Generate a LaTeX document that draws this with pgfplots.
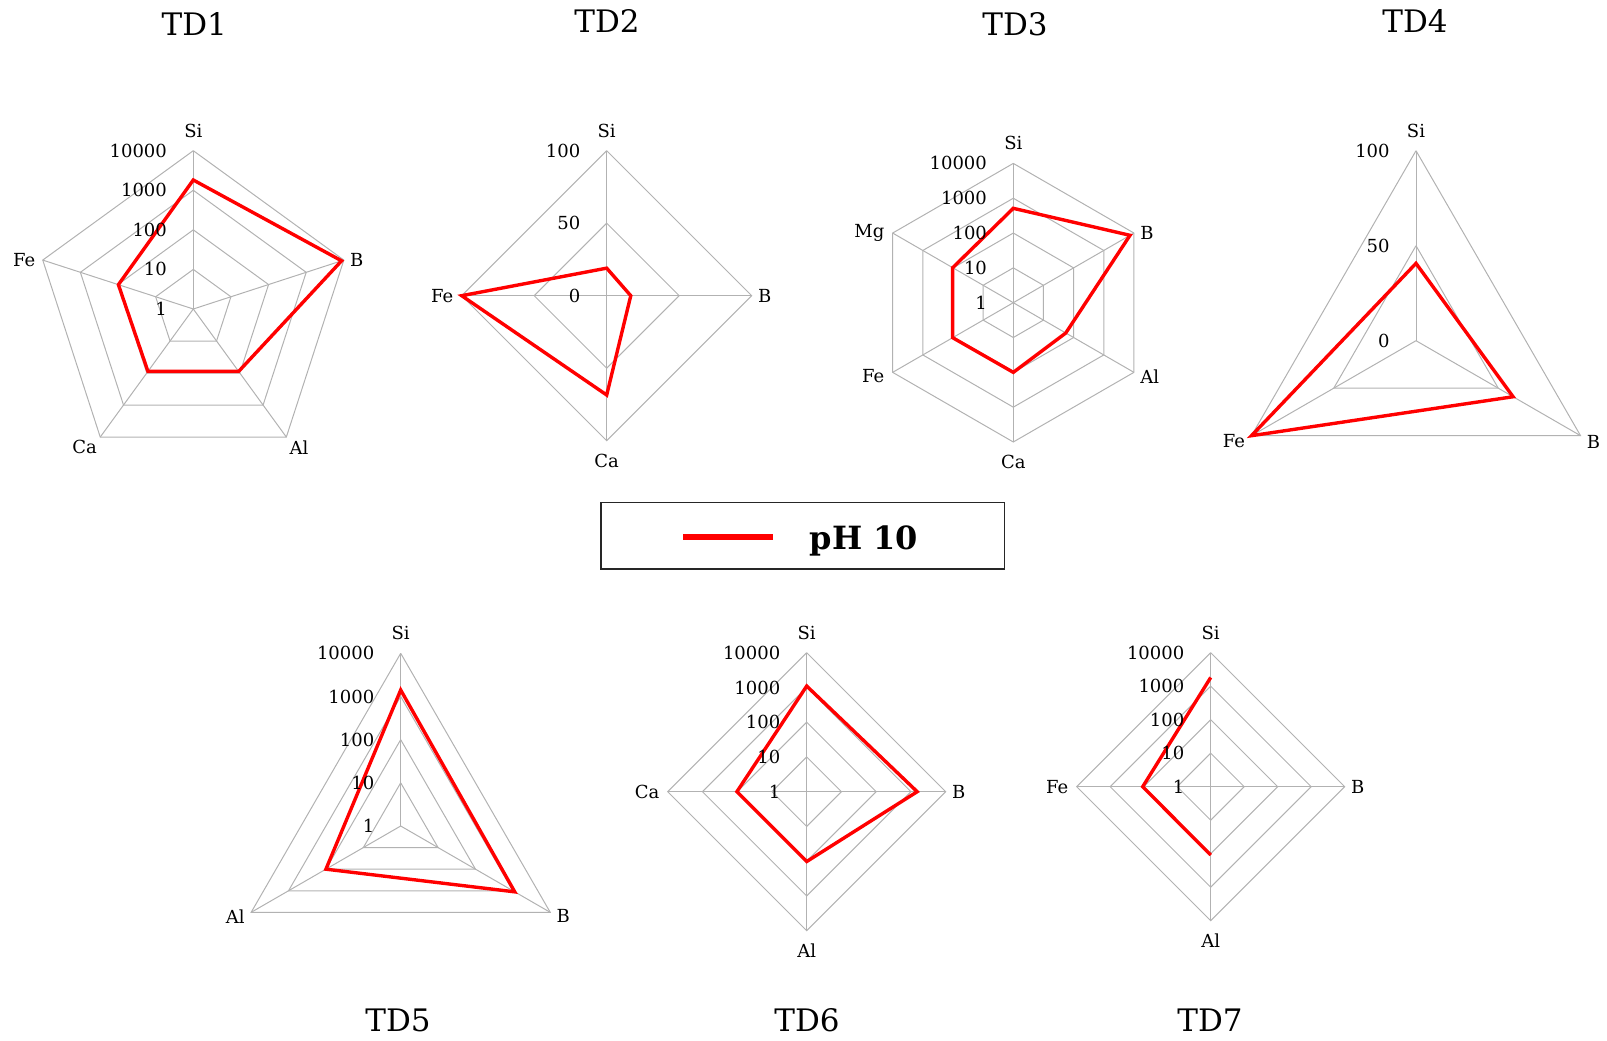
\documentclass[border=0pt]{standalone}
\usepackage{pgfplots}
\pgfplotsset{compat=1.18}
\usepgfplotslibrary{polar}
\usepackage{fontspec}
\setmainfont{DejaVu Serif}
\pgfplotsset{
  radar/.style={hide axis, clip=false, scale only axis, xmin=0, xmax=360, ymin=0, anchor=center},
  gridl/.style={color=gray!60, line width=0.5pt, forget plot},
  dline/.style={color=red, line width=1.7pt, line join=miter, mark=none},
}
\tikzset{tickl/.style={anchor=east, inner sep=0pt, xshift=-13pt}}
\begin{document}
\begin{tikzpicture}[x=0.5pt, y=0.5pt, font=\fontsize{9}{10.5}\selectfont]
% ---------------- TD1 ----------------
\begin{polaraxis}[radar, ymax=4, width=158.3pt, height=158.3pt, at={(96.65pt,365.5pt)}]
\addplot[gridl] coordinates {(90,1)(18,1)(306,1)(234,1)(162,1)(90,1)};
\addplot[gridl] coordinates {(90,2)(18,2)(306,2)(234,2)(162,2)(90,2)};
\addplot[gridl] coordinates {(90,3)(18,3)(306,3)(234,3)(162,3)(90,3)};
\addplot[gridl] coordinates {(90,4)(18,4)(306,4)(234,4)(162,4)(90,4)};
\addplot[gridl] coordinates {(90,0)(90,4)};
\addplot[gridl] coordinates {(18,0)(18,4)};
\addplot[gridl] coordinates {(306,0)(306,4)};
\addplot[gridl] coordinates {(234,0)(234,4)};
\addplot[gridl] coordinates {(162,0)(162,4)};
% log10 of concentrations: Si 1820, B 8700, Al 89, Ca 89, Fe 98
\addplot[dline] coordinates {(90,3.26)(18,3.94)(306,1.95)(234,1.95)(162,1.99)(90,3.26)(18,3.94)};
\node[tickl] at (axis cs:90,4) {10000};
\node[tickl] at (axis cs:90,3) {1000};
\node[tickl] at (axis cs:90,2) {100};
\node[tickl] at (axis cs:90,1) {10};
\node[tickl] at (axis cs:90,0) {1};
\node[anchor=south, inner sep=6.5pt] at (axis cs:90,4) {Si};
\node[anchor=west, inner sep=3pt] at (axis cs:18,4) {B};
\node[anchor=north west, inner sep=1.5pt] at (axis cs:306,4) {Al};
\node[anchor=north east, inner sep=1.5pt] at (axis cs:234,4) {Ca};
\node[anchor=east, inner sep=3.5pt] at (axis cs:162,4) {Fe};
\end{polaraxis}
% ---------------- TD2 ----------------
\begin{polaraxis}[radar, ymax=100, width=145pt, height=145pt, at={(303.35pt,372.15pt)}]
\addplot[gridl] coordinates {(90,50)(0,50)(270,50)(180,50)(90,50)};
\addplot[gridl] coordinates {(90,100)(0,100)(270,100)(180,100)(90,100)};
\addplot[gridl] coordinates {(90,0)(90,100)};
\addplot[gridl] coordinates {(0,0)(0,100)};
\addplot[gridl] coordinates {(270,0)(270,100)};
\addplot[gridl] coordinates {(180,0)(180,100)};
\addplot[dline] coordinates {(90,19)(0,16.6)(270,68.5)(180,100)(90,19)(0,16.6)};
\node[tickl] at (axis cs:90,100) {100};
\node[tickl] at (axis cs:90,50) {50};
\node[tickl] at (axis cs:90,0) {0};
\node[anchor=south, inner sep=6.5pt] at (axis cs:90,100) {Si};
\node[anchor=west, inner sep=3pt] at (axis cs:0,100) {B};
\node[anchor=north, inner sep=6.5pt] at (axis cs:270,100) {Ca};
\node[anchor=east, inner sep=4pt] at (axis cs:180,100) {Fe};
\end{polaraxis}
% ---------------- TD3 ----------------
\begin{polaraxis}[radar, ymax=4, width=139.3pt, height=139.3pt, at={(506.65pt,368.65pt)}]
\addplot[gridl] coordinates {(90,1)(30,1)(330,1)(270,1)(210,1)(150,1)(90,1)};
\addplot[gridl] coordinates {(90,2)(30,2)(330,2)(270,2)(210,2)(150,2)(90,2)};
\addplot[gridl] coordinates {(90,3)(30,3)(330,3)(270,3)(210,3)(150,3)(90,3)};
\addplot[gridl] coordinates {(90,4)(30,4)(330,4)(270,4)(210,4)(150,4)(90,4)};
\addplot[gridl] coordinates {(90,0)(90,4)};
\addplot[gridl] coordinates {(30,0)(30,4)};
\addplot[gridl] coordinates {(330,0)(330,4)};
\addplot[gridl] coordinates {(270,0)(270,4)};
\addplot[gridl] coordinates {(210,0)(210,4)};
\addplot[gridl] coordinates {(150,0)(150,4)};
% log10: Si 510, B 7400, Al 55, Ca 100, Fe 102, Mg 102
\addplot[dline] coordinates {(90,2.71)(30,3.87)(330,1.74)(270,2.0)(210,2.01)(150,2.01)(90,2.71)(30,3.87)};
\node[tickl] at (axis cs:90,4) {10000};
\node[tickl] at (axis cs:90,3) {1000};
\node[tickl] at (axis cs:90,2) {100};
\node[tickl] at (axis cs:90,1) {10};
\node[tickl] at (axis cs:90,0) {1};
\node[anchor=south, inner sep=6.5pt] at (axis cs:90,4) {Si};
\node[anchor=west, inner sep=3pt] at (axis cs:30,4) {B};
\node[anchor=west, inner sep=3pt, yshift=-2pt] at (axis cs:330,4) {Al};
\node[anchor=north, inner sep=6.5pt] at (axis cs:270,4) {Ca};
\node[anchor=east, inner sep=4pt, yshift=-2pt] at (axis cs:210,4) {Fe};
\node[anchor=east, inner sep=4pt] at (axis cs:150,4) {Mg};
\end{polaraxis}
% ---------------- TD4 ----------------
\begin{polaraxis}[radar, ymax=100, width=190pt, height=190pt, at={(708pt,349.65pt)}]
\addplot[gridl] coordinates {(90,50)(330,50)(210,50)(90,50)};
\addplot[gridl] coordinates {(90,100)(330,100)(210,100)(90,100)};
\addplot[gridl] coordinates {(90,0)(90,100)};
\addplot[gridl] coordinates {(330,0)(330,100)};
\addplot[gridl] coordinates {(210,0)(210,100)};
\addplot[dline] coordinates {(90,40.7)(330,59)(210,100)(90,40.7)(330,59)};
\node[tickl] at (axis cs:90,100) {100};
\node[tickl] at (axis cs:90,50) {50};
\node[tickl] at (axis cs:90,0) {0};
\node[anchor=south, inner sep=6.5pt] at (axis cs:90,100) {Si};
\node[anchor=west, inner sep=3pt, yshift=-3pt] at (axis cs:330,100) {B};
\node[anchor=east, inner sep=3pt, yshift=-2.5pt] at (axis cs:210,100) {Fe};
\end{polaraxis}
% ---------------- TD5 ----------------
\begin{polaraxis}[radar, ymax=4, width=172.7pt, height=172.7pt, at={(200.35pt,107pt)}]
\addplot[gridl] coordinates {(90,1)(330,1)(210,1)(90,1)};
\addplot[gridl] coordinates {(90,2)(330,2)(210,2)(90,2)};
\addplot[gridl] coordinates {(90,3)(330,3)(210,3)(90,3)};
\addplot[gridl] coordinates {(90,4)(330,4)(210,4)(90,4)};
\addplot[gridl] coordinates {(90,0)(90,4)};
\addplot[gridl] coordinates {(330,0)(330,4)};
\addplot[gridl] coordinates {(210,0)(210,4)};
% log10: Si 1410, B 1130, Al 100
\addplot[dline] coordinates {(90,3.15)(330,3.05)(210,2.0)(90,3.15)(330,3.05)};
\node[tickl] at (axis cs:90,4) {10000};
\node[tickl] at (axis cs:90,3) {1000};
\node[tickl] at (axis cs:90,2) {100};
\node[tickl] at (axis cs:90,1) {10};
\node[tickl] at (axis cs:90,0) {1};
\node[anchor=south, inner sep=6.5pt] at (axis cs:90,4) {Si};
\node[anchor=west, inner sep=3pt, yshift=-2pt] at (axis cs:330,4) {B};
\node[anchor=east, inner sep=3pt, yshift=-2pt] at (axis cs:210,4) {Al};
\end{polaraxis}
% ---------------- TD6 ----------------
\begin{polaraxis}[radar, ymax=4, width=139pt, height=139pt, at={(403.35pt,124.15pt)}]
\addplot[gridl] coordinates {(90,1)(0,1)(270,1)(180,1)(90,1)};
\addplot[gridl] coordinates {(90,2)(0,2)(270,2)(180,2)(90,2)};
\addplot[gridl] coordinates {(90,3)(0,3)(270,3)(180,3)(90,3)};
\addplot[gridl] coordinates {(90,4)(0,4)(270,4)(180,4)(90,4)};
\addplot[gridl] coordinates {(90,0)(90,4)};
\addplot[gridl] coordinates {(0,0)(0,4)};
\addplot[gridl] coordinates {(270,0)(270,4)};
\addplot[gridl] coordinates {(180,0)(180,4)};
% log10: Si 1100, B 1510, Al 102, Ca 102
\addplot[dline] coordinates {(90,3.04)(0,3.18)(270,2.01)(180,2.01)(90,3.04)(0,3.18)};
\node[tickl] at (axis cs:90,4) {10000};
\node[tickl] at (axis cs:90,3) {1000};
\node[tickl] at (axis cs:90,2) {100};
\node[tickl] at (axis cs:90,1) {10};
\node[tickl] at (axis cs:90,0) {1};
\node[anchor=south, inner sep=6.5pt] at (axis cs:90,4) {Si};
\node[anchor=west, inner sep=3pt] at (axis cs:0,4) {B};
\node[anchor=north, inner sep=6.5pt] at (axis cs:270,4) {Al};
\node[anchor=east, inner sep=4pt] at (axis cs:180,4) {Ca};
\end{polaraxis}
% ---------------- TD7 ----------------
\begin{polaraxis}[radar, ymax=4, width=134pt, height=134pt, at={(605.35pt,126.65pt)}]
\addplot[gridl] coordinates {(90,1)(0,1)(270,1)(180,1)(90,1)};
\addplot[gridl] coordinates {(90,2)(0,2)(270,2)(180,2)(90,2)};
\addplot[gridl] coordinates {(90,3)(0,3)(270,3)(180,3)(90,3)};
\addplot[gridl] coordinates {(90,4)(0,4)(270,4)(180,4)(90,4)};
\addplot[gridl] coordinates {(90,0)(90,4)};
\addplot[gridl] coordinates {(0,0)(0,4)};
\addplot[gridl] coordinates {(270,0)(270,4)};
\addplot[gridl] coordinates {(180,0)(180,4)};
% log10: Al 110, Fe 107, Si 1820 (B not reported)
\addplot[dline] coordinates {(270,2.04)(180,2.03)(90,3.26)};
\node[tickl] at (axis cs:90,4) {10000};
\node[tickl] at (axis cs:90,3) {1000};
\node[tickl] at (axis cs:90,2) {100};
\node[tickl] at (axis cs:90,1) {10};
\node[tickl] at (axis cs:90,0) {1};
\node[anchor=south, inner sep=6.5pt] at (axis cs:90,4) {Si};
\node[anchor=west, inner sep=3pt] at (axis cs:0,4) {B};
\node[anchor=north, inner sep=6.5pt] at (axis cs:270,4) {Al};
\node[anchor=east, inner sep=4pt] at (axis cs:180,4) {Fe};
\end{polaraxis}
% ---------------- titles ----------------
\begin{scope}[font=\fontsize{15.5}{18}\selectfont]
\node[anchor=base] at (194.3,1004) {TD1};
\node[anchor=base] at (607,1007) {TD2};
\node[anchor=base] at (1015,1004) {TD3};
\node[anchor=base] at (1415,1007) {TD4};
\node[anchor=base] at (398,8.3) {TD5};
\node[anchor=base] at (807,8.3) {TD6};
\node[anchor=base] at (1210,8.3) {TD7};
\end{scope}
% ---------------- legend ----------------
\draw[line width=0.8pt, black!85] (601,537.3) rectangle (1004.3,470.7);
\draw[red, line width=3pt] (683.3,503.3) -- (772.7,503.3);
\node[anchor=base, font=\fontsize{16}{19}\selectfont\bfseries] at (863.8,490) {pH 10};
\pgfresetboundingbox
\useasboundingbox (0,0) rectangle (1607,1040);
\end{tikzpicture}
\end{document}
